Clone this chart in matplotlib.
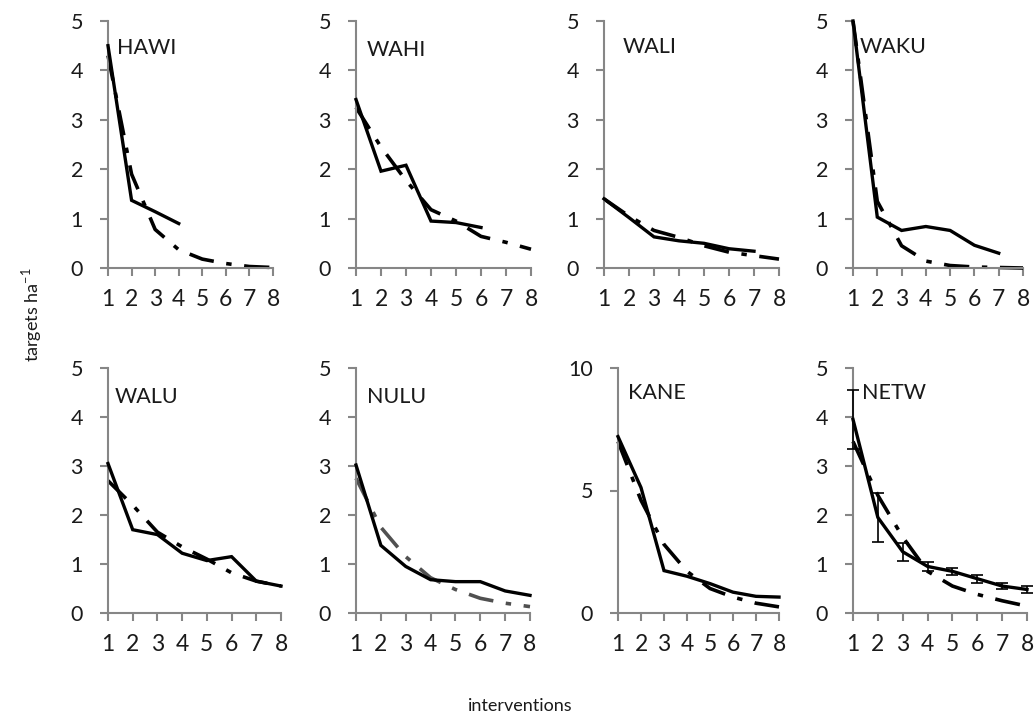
import numpy as np
import matplotlib
matplotlib.use("Agg")
import matplotlib.pyplot as plt

plt.rcParams['font.family'] = ['Lato', 'DejaVu Sans']

# interventions on the x axis
interventions = [1, 2, 3, 4, 5, 6, 7, 8]

sites = ['HAWI', 'WAHI', 'WALI', 'WAKU', 'WALU', 'NULU', 'KANE', 'NETW']

# observed targets per hectare (solid lines)
obs_hawi = [4.5, 1.37, 1.14, 0.9]
obs_wahi = [3.41, 1.96, 2.08, 0.95, 0.92, 0.82]
obs_wali = [1.4, 1.02, 0.63, 0.55, 0.5, 0.39, 0.34]
obs_waku = [5.0, 1.03, 0.76, 0.84, 0.76, 0.46, 0.3]
obs_walu = [3.05, 1.7, 1.6, 1.22, 1.07, 1.15, 0.65, 0.55]
obs_nulu = [3.02, 1.38, 0.95, 0.68, 0.64, 0.64, 0.45, 0.36]
obs_kane = [7.2, 5.12, 1.73, 1.5, 1.2, 0.85, 0.68, 0.65]
obs_netw = [3.95, 1.95, 1.25, 0.95, 0.85, 0.7, 0.55, 0.48]

# standard errors for the network mean
err_netw = [0.6, 0.5, 0.18, 0.1, 0.07, 0.08, 0.07, 0.07]

# fitted depletion curves (dash-dot lines)
fit_hawi = [4.3, 1.9, 0.78, 0.37, 0.18, 0.09, 0.03, 0.01]
fit_wahi = [3.25, 2.45, 1.77, 1.18, 0.95, 0.64, 0.52, 0.38]
fit_wali = [1.4, 1.05, 0.76, 0.62, 0.45, 0.32, 0.25, 0.18]
fit_waku = [5.0, 1.35, 0.45, 0.14, 0.05, 0.02, 0.01, 0.0]
fit_walu = [2.7, 2.2, 1.65, 1.35, 1.1, 0.82, 0.65, 0.55]
fit_nulu = [2.75, 1.75, 1.15, 0.72, 0.48, 0.3, 0.2, 0.13]
fit_kane = [7.0, 4.6, 2.8, 1.7, 1.0, 0.65, 0.4, 0.25]
fit_netw = [3.5, 2.4, 1.55, 0.85, 0.55, 0.38, 0.25, 0.14]

observed = [obs_hawi, obs_wahi, obs_wali, obs_waku, obs_walu, obs_nulu, obs_kane, obs_netw]
fitted = [fit_hawi, fit_wahi, fit_wali, fit_waku, fit_walu, fit_nulu, fit_kane, fit_netw]
y_max = [5, 5, 5, 5, 5, 5, 10, 5]
y_step = [1, 1, 1, 1, 1, 1, 5, 1]

W, H = 1034, 724
fig = plt.figure(figsize=(W / 100, H / 100), dpi=100)

# panel boxes in pixels: left, right, top, bottom
boxes = [
    (108, 273, 21, 268), (356, 531, 21, 268), (604, 779, 21, 268), (853, 1023, 21, 268),
    (108, 281, 368, 613), (356, 530, 368, 613), (618, 779, 368, 613), (853, 1027, 368, 613),
]
label_dx = [9, 11, 19, 7, 7, 11, 10, 9]
label_dy = [27, 29, 26, 26, 29, 29, 25, 25]

grey = '#868686'
ink = '#1a1a1a'
dashdot = (0, (7, 3.5, 1.5, 3.5))

for i, site in enumerate(sites):
    l, r, t, b = boxes[i]
    ax = fig.add_axes([l / W, 1 - b / H, (r - l) / W, (b - t) / H])

    obs = observed[i]
    fit = fitted[i]
    fit_color = '#505050' if site == 'NULU' else 'black'
    ax.plot(interventions[:len(fit)], fit, color=fit_color, lw=2.6,
            linestyle=dashdot, zorder=2, clip_on=False)
    ax.plot(interventions[:len(obs)], obs, color='black', lw=2.4,
            solid_joinstyle='miter', zorder=3, clip_on=False)
    if site == 'NETW':
        ax.errorbar(interventions, obs, yerr=err_netw, fmt='none',
                    ecolor='black', elinewidth=1.2, capsize=4, capthick=1.2,
                    zorder=4, clip_on=False)

    ax.set_xlim(1, 8)
    ax.set_ylim(0, y_max[i])
    ax.set_xticks(interventions)
    ax.set_yticks(np.arange(0, y_max[i] + 0.1, y_step[i]))
    ax.tick_params(axis='both', colors=grey, labelcolor=ink, width=1.5, length=6)
    ax.tick_params(axis='x', pad=9, labelsize=16.5)
    ax.tick_params(axis='y', pad=12, labelsize=15.5)
    for side in ['top', 'right']:
        ax.spines[side].set_visible(False)
    for side in ['left', 'bottom']:
        ax.spines[side].set_color(grey)
        ax.spines[side].set_linewidth(1.5)
    ax.patch.set_alpha(0)

    ax.annotate(site, xy=(0, 1), xycoords='axes fraction',
                xytext=(label_dx[i], -label_dy[i]), textcoords='offset pixels',
                ha='left', va='center', fontsize=15.5, color=ink)

fig.text(32 / W, 1 - 315 / H, r'targets ha$^{\mathregular{-1}}$', rotation=90,
         ha='center', va='center', fontsize=13, color=ink)
fig.text(520 / W, 1 - 706 / H, 'interventions', ha='center', va='center',
         fontsize=13, color=ink)

fig.savefig('out.png', dpi=100, facecolor='white')
